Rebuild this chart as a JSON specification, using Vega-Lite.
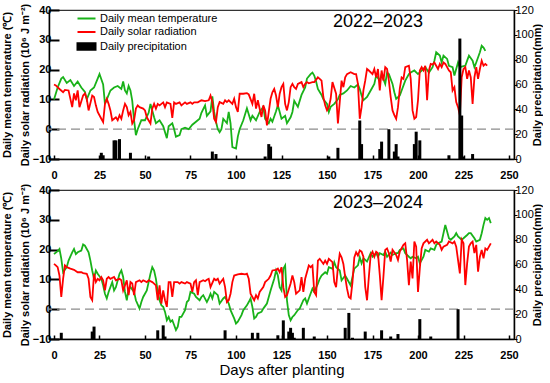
{
  "$schema": "https://vega.github.io/schema/vega-lite/v6.json",
  "padding": {"left": 0, "top": 2, "right": 0, "bottom": 1},
  "config": {
    "font": "Liberation Sans",
    "view": {"stroke": "#333", "strokeWidth": 1.2},
    "axis": {"grid": false, "domainColor": "#000", "tickColor": "#000", "labelColor": "#000", "titleColor": "#000", "labelFont": "Liberation Sans", "titleFont": "Liberation Sans", "labelFlush": false, "labelOverlap": false},
    "concat": {"spacing": 1}
  },
  "datasets": {
    "t1": [{"day":0,"value":10},{"day":2,"value":14},{"day":4,"value":17},{"day":5,"value":17.5},{"day":7,"value":15.5},{"day":9,"value":16.5},{"day":11,"value":14.5},{"day":13,"value":16},{"day":15,"value":14},{"day":17,"value":12.5},{"day":18,"value":10},{"day":20,"value":13},{"day":22,"value":14},{"day":24,"value":17},{"day":25,"value":18.5},{"day":27,"value":15},{"day":28,"value":8.5},{"day":29,"value":10},{"day":31,"value":13},{"day":33,"value":14},{"day":35,"value":14.5},{"day":37,"value":13.5},{"day":38,"value":16},{"day":39,"value":13},{"day":40,"value":12},{"day":41,"value":14.5},{"day":42,"value":13},{"day":43,"value":9.5},{"day":44,"value":3},{"day":45,"value":-2},{"day":46,"value":0},{"day":48,"value":3},{"day":50,"value":3},{"day":52,"value":5.5},{"day":53,"value":8.5},{"day":55,"value":4},{"day":56,"value":2},{"day":58,"value":3},{"day":60,"value":1},{"day":62,"value":-3},{"day":63,"value":1},{"day":65,"value":2},{"day":66,"value":0},{"day":67,"value":-2.5},{"day":69,"value":-2},{"day":70,"value":0},{"day":72,"value":0.5},{"day":74,"value":0},{"day":76,"value":1.5},{"day":78,"value":2.5},{"day":80,"value":3.5},{"day":81,"value":5.5},{"day":83,"value":8},{"day":84,"value":4.5},{"day":86,"value":6},{"day":87,"value":11},{"day":88,"value":5.8},{"day":89,"value":2.5},{"day":90,"value":0},{"day":91,"value":-1},{"day":92,"value":0},{"day":93,"value":3.5},{"day":95,"value":2},{"day":96,"value":5.8},{"day":97,"value":2},{"day":98,"value":-6},{"day":100,"value":-6.5},{"day":101,"value":-2.5},{"day":102,"value":0},{"day":104,"value":3},{"day":105,"value":5},{"day":106,"value":7},{"day":108,"value":3},{"day":109,"value":4.5},{"day":111,"value":3},{"day":113,"value":5.8},{"day":115,"value":7.5},{"day":116,"value":3.5},{"day":118,"value":2},{"day":119,"value":3.5},{"day":120,"value":2.5},{"day":122,"value":6},{"day":123,"value":8},{"day":125,"value":3.5},{"day":127,"value":4.5},{"day":128,"value":2},{"day":130,"value":4},{"day":131,"value":5.8},{"day":132,"value":9.5},{"day":134,"value":7.5},{"day":136,"value":11.5},{"day":138,"value":14},{"day":139,"value":17},{"day":141,"value":18.5},{"day":142,"value":19},{"day":143,"value":18},{"day":144,"value":16},{"day":145,"value":13.5},{"day":147,"value":11.5},{"day":148,"value":10},{"day":150,"value":8.5},{"day":151,"value":5.8},{"day":152,"value":7.5},{"day":154,"value":8.5},{"day":156,"value":10},{"day":157,"value":11.5},{"day":159,"value":12},{"day":161,"value":13},{"day":163,"value":14.5},{"day":165,"value":14},{"day":167,"value":15},{"day":168,"value":13.5},{"day":169,"value":11.3},{"day":170,"value":9.7},{"day":172,"value":10.8},{"day":174,"value":13},{"day":176,"value":15.2},{"day":177,"value":18},{"day":179,"value":16.3},{"day":180,"value":18.5},{"day":182,"value":15.2},{"day":183,"value":19},{"day":184,"value":18.5},{"day":186,"value":15.2},{"day":187,"value":12.4},{"day":188,"value":10.2},{"day":190,"value":11.3},{"day":191,"value":13},{"day":193,"value":16.3},{"day":195,"value":18.5},{"day":196,"value":19},{"day":198,"value":19.7},{"day":200,"value":18.5},{"day":202,"value":19.7},{"day":204,"value":20.8},{"day":206,"value":19},{"day":208,"value":20.8},{"day":209,"value":23},{"day":210,"value":25.8},{"day":212,"value":24.7},{"day":213,"value":22.4},{"day":214,"value":24.7},{"day":216,"value":23.6},{"day":217,"value":21.3},{"day":219,"value":20.8},{"day":220,"value":18},{"day":222,"value":22.4},{"day":223,"value":20.8},{"day":224,"value":21},{"day":226,"value":21.3},{"day":227,"value":23},{"day":228,"value":24.7},{"day":230,"value":23},{"day":231,"value":20.8},{"day":232,"value":22.4},{"day":234,"value":25.8},{"day":235,"value":28},{"day":236,"value":27.4},{"day":237,"value":26.3}],
    "r1": [{"day":0,"value":15},{"day":1,"value":14.7},{"day":3,"value":13.5},{"day":5,"value":12.4},{"day":6,"value":13.2},{"day":8,"value":13},{"day":10,"value":7.4},{"day":11,"value":12},{"day":12,"value":9.7},{"day":13,"value":13},{"day":14,"value":7.4},{"day":16,"value":11.3},{"day":17,"value":12},{"day":18,"value":10.2},{"day":19,"value":6.3},{"day":21,"value":11.3},{"day":22,"value":10.8},{"day":23,"value":8},{"day":24,"value":5.8},{"day":26,"value":3.5},{"day":27,"value":2.4},{"day":28,"value":8.5},{"day":29,"value":10.2},{"day":30,"value":8.5},{"day":31,"value":6.3},{"day":32,"value":3},{"day":34,"value":4},{"day":35,"value":3},{"day":36,"value":4.7},{"day":37,"value":3.5},{"day":38,"value":6.3},{"day":39,"value":8.5},{"day":40,"value":7.4},{"day":41,"value":4.7},{"day":42,"value":5.8},{"day":43,"value":1.9},{"day":44,"value":3},{"day":45,"value":6.9},{"day":46,"value":8},{"day":47,"value":7.4},{"day":49,"value":6.9},{"day":50,"value":6.3},{"day":51,"value":4},{"day":53,"value":1.9},{"day":54,"value":6.9},{"day":55,"value":8.5},{"day":56,"value":6.9},{"day":57,"value":8.5},{"day":58,"value":8},{"day":60,"value":9},{"day":61,"value":7.4},{"day":62,"value":9},{"day":64,"value":8.5},{"day":65,"value":3.8},{"day":66,"value":9},{"day":67,"value":8.5},{"day":69,"value":9},{"day":70,"value":8},{"day":72,"value":9},{"day":73,"value":8.5},{"day":75,"value":9},{"day":76,"value":8.5},{"day":77,"value":9},{"day":79,"value":9},{"day":81,"value":9.7},{"day":83,"value":9.4},{"day":85,"value":9.7},{"day":86,"value":11.3},{"day":87,"value":9.1},{"day":88,"value":3.5},{"day":89,"value":2.4},{"day":90,"value":7.4},{"day":91,"value":9.1},{"day":93,"value":8.5},{"day":94,"value":9.7},{"day":95,"value":9.1},{"day":96,"value":9.7},{"day":98,"value":8.5},{"day":99,"value":10.2},{"day":100,"value":7.4},{"day":101,"value":5.8},{"day":102,"value":11.9},{"day":104,"value":11.9},{"day":106,"value":12.1},{"day":107,"value":11.7},{"day":109,"value":8.5},{"day":110,"value":11.9},{"day":111,"value":6.9},{"day":112,"value":9.7},{"day":114,"value":4.1},{"day":115,"value":8},{"day":116,"value":6.3},{"day":117,"value":1.3},{"day":118,"value":5.8},{"day":119,"value":10.2},{"day":120,"value":12.4},{"day":121,"value":13.5},{"day":122,"value":11.3},{"day":123,"value":7.4},{"day":124,"value":11.9},{"day":125,"value":14.1},{"day":126,"value":15.2},{"day":127,"value":8.5},{"day":128,"value":6.3},{"day":129,"value":9.1},{"day":130,"value":14.1},{"day":131,"value":15.2},{"day":132,"value":14.1},{"day":133,"value":13.5},{"day":134,"value":15.2},{"day":136,"value":15.8},{"day":137,"value":14.1},{"day":138,"value":15.2},{"day":139,"value":15.8},{"day":140,"value":15.4},{"day":142,"value":15.8},{"day":143,"value":15.8},{"day":145,"value":17.4},{"day":146,"value":16.9},{"day":147,"value":16.3},{"day":148,"value":10.8},{"day":149,"value":8},{"day":150,"value":6.3},{"day":151,"value":7.4},{"day":152,"value":10.2},{"day":153,"value":15.8},{"day":155,"value":11.9},{"day":156,"value":1.9},{"day":157,"value":9.1},{"day":158,"value":16.3},{"day":159,"value":14.1},{"day":160,"value":17.4},{"day":161,"value":18.5},{"day":163,"value":19.1},{"day":165,"value":18.5},{"day":166,"value":18.5},{"day":167,"value":15.2},{"day":168,"value":3.5},{"day":169,"value":7.4},{"day":170,"value":13},{"day":171,"value":16.3},{"day":172,"value":20.2},{"day":173,"value":19.7},{"day":175,"value":18.5},{"day":176,"value":20.2},{"day":177,"value":17.4},{"day":178,"value":20.2},{"day":179,"value":13},{"day":180,"value":19.7},{"day":181,"value":16.3},{"day":182,"value":20.8},{"day":183,"value":20.2},{"day":184,"value":16.3},{"day":185,"value":10.8},{"day":186,"value":6.3},{"day":187,"value":4.7},{"day":188,"value":3.5},{"day":189,"value":7.4},{"day":190,"value":13.6},{"day":191,"value":17.4},{"day":192,"value":16.9},{"day":193,"value":20.8},{"day":195,"value":21.3},{"day":196,"value":16.9},{"day":197,"value":6.3},{"day":198,"value":3.5},{"day":199,"value":4.1},{"day":200,"value":9.7},{"day":201,"value":19.7},{"day":202,"value":20.8},{"day":203,"value":19.7},{"day":204,"value":21.3},{"day":205,"value":9.7},{"day":206,"value":19.7},{"day":207,"value":21.9},{"day":208,"value":21.7},{"day":209,"value":22.4},{"day":210,"value":21.3},{"day":211,"value":20.2},{"day":212,"value":21.9},{"day":213,"value":20.8},{"day":214,"value":22.4},{"day":215,"value":21.9},{"day":217,"value":19.7},{"day":218,"value":19.1},{"day":219,"value":13},{"day":220,"value":14.1},{"day":221,"value":9.1},{"day":222,"value":7.4},{"day":223,"value":4.7},{"day":224,"value":17.4},{"day":225,"value":20.2},{"day":226,"value":20.8},{"day":227,"value":16.9},{"day":228,"value":19.7},{"day":229,"value":17.4},{"day":230,"value":8.5},{"day":231,"value":17.4},{"day":232,"value":20.8},{"day":233,"value":16.9},{"day":234,"value":20.2},{"day":235,"value":23},{"day":236,"value":21.3},{"day":237,"value":21.9},{"day":238,"value":21.3}],
    "p1": [{"day":26,"value":5},{"day":27,"value":3},{"day":33,"value":15},{"day":34,"value":15},{"day":36,"value":16},{"day":42,"value":5},{"day":52,"value":2},{"day":87,"value":6},{"day":89,"value":4},{"day":116,"value":2},{"day":118,"value":12},{"day":119,"value":10},{"day":151,"value":2},{"day":156,"value":9},{"day":168,"value":31},{"day":169,"value":12},{"day":179,"value":8},{"day":180,"value":14},{"day":184,"value":24},{"day":187,"value":6},{"day":188,"value":12},{"day":189,"value":2},{"day":198,"value":12},{"day":199,"value":22},{"day":201,"value":15},{"day":217,"value":3},{"day":223,"value":97},{"day":224,"value":35},{"day":225,"value":2},{"day":230,"value":4}],
    "t2": [{"day":0,"value":18.5},{"day":1,"value":19},{"day":2,"value":19.5},{"day":3,"value":20.2},{"day":4,"value":17},{"day":5,"value":12.4},{"day":7,"value":14.1},{"day":8,"value":16.3},{"day":10,"value":19.1},{"day":11,"value":20.2},{"day":12,"value":18.5},{"day":13,"value":19.1},{"day":15,"value":19.7},{"day":16,"value":21.7},{"day":17,"value":21.3},{"day":19,"value":19.1},{"day":20,"value":16.3},{"day":21,"value":13},{"day":22,"value":10.2},{"day":23,"value":13},{"day":24,"value":11.9},{"day":26,"value":10.2},{"day":27,"value":8},{"day":28,"value":5.2},{"day":29,"value":3.6},{"day":30,"value":5.8},{"day":32,"value":9.1},{"day":33,"value":6.3},{"day":34,"value":7.4},{"day":36,"value":11.9},{"day":37,"value":13},{"day":38,"value":10.8},{"day":39,"value":5.8},{"day":40,"value":3},{"day":41,"value":6.9},{"day":42,"value":7.4},{"day":44,"value":5.8},{"day":45,"value":3},{"day":47,"value":0.2},{"day":48,"value":2.4},{"day":49,"value":4.1},{"day":51,"value":6.3},{"day":52,"value":9.1},{"day":53,"value":11.9},{"day":54,"value":14.1},{"day":55,"value":13},{"day":56,"value":10.2},{"day":57,"value":5.8},{"day":58,"value":3},{"day":59,"value":1.3},{"day":60,"value":0.8},{"day":61,"value":-0.9},{"day":62,"value":-3.7},{"day":63,"value":-2.6},{"day":64,"value":-4.2},{"day":65,"value":-3.7},{"day":66,"value":-5.3},{"day":67,"value":-7},{"day":68,"value":-5.9},{"day":69,"value":-2.6},{"day":70,"value":-2.6},{"day":72,"value":-0.3},{"day":73,"value":2.4},{"day":74,"value":3},{"day":75,"value":5.8},{"day":77,"value":5.2},{"day":78,"value":4.1},{"day":80,"value":3},{"day":81,"value":4.1},{"day":82,"value":4.7},{"day":84,"value":2.4},{"day":85,"value":3.6},{"day":86,"value":5.2},{"day":87,"value":3.6},{"day":88,"value":5.8},{"day":90,"value":4.7},{"day":91,"value":1.9},{"day":93,"value":3.6},{"day":94,"value":4.1},{"day":95,"value":3},{"day":96,"value":1.9},{"day":97,"value":-0.3},{"day":99,"value":-3.1},{"day":100,"value":-4.8},{"day":101,"value":-4.2},{"day":103,"value":-2},{"day":104,"value":-0.3},{"day":106,"value":1.3},{"day":107,"value":2.4},{"day":108,"value":3.6},{"day":109,"value":0.8},{"day":110,"value":-3.1},{"day":111,"value":-2.6},{"day":112,"value":-1.4},{"day":114,"value":-0.9},{"day":115,"value":0.2},{"day":117,"value":1.9},{"day":118,"value":4.1},{"day":119,"value":6.3},{"day":121,"value":10.2},{"day":122,"value":13},{"day":123,"value":11.3},{"day":124,"value":7.4},{"day":125,"value":6.3},{"day":126,"value":13.6},{"day":127,"value":14.7},{"day":128,"value":3},{"day":129,"value":-2},{"day":130,"value":-3.7},{"day":131,"value":-2.6},{"day":132,"value":-2},{"day":134,"value":-0.3},{"day":135,"value":0.2},{"day":137,"value":3},{"day":138,"value":3.6},{"day":139,"value":1.9},{"day":140,"value":3.6},{"day":142,"value":6.9},{"day":143,"value":5.8},{"day":145,"value":8.6},{"day":146,"value":10.2},{"day":147,"value":11.3},{"day":149,"value":12.4},{"day":150,"value":11.9},{"day":151,"value":14.1},{"day":153,"value":13.6},{"day":154,"value":15.8},{"day":155,"value":14.1},{"day":157,"value":13},{"day":158,"value":9.7},{"day":160,"value":11.3},{"day":161,"value":10.2},{"day":163,"value":8},{"day":164,"value":10.8},{"day":165,"value":13.6},{"day":167,"value":14.7},{"day":168,"value":17.4},{"day":169,"value":15.4},{"day":170,"value":17.1},{"day":172,"value":16},{"day":174,"value":18.8},{"day":175,"value":17.6},{"day":177,"value":18.8},{"day":178,"value":17.6},{"day":179,"value":18.8},{"day":181,"value":18.2},{"day":182,"value":19.3},{"day":183,"value":17.6},{"day":185,"value":19},{"day":186,"value":18.2},{"day":188,"value":18.8},{"day":189,"value":18.8},{"day":190,"value":19.9},{"day":192,"value":20.4},{"day":193,"value":18.8},{"day":195,"value":17.6},{"day":196,"value":17.1},{"day":197,"value":17.6},{"day":199,"value":17.1},{"day":200,"value":17.6},{"day":201,"value":15.4},{"day":203,"value":17.6},{"day":204,"value":19.9},{"day":206,"value":19.3},{"day":207,"value":20.4},{"day":209,"value":19.9},{"day":210,"value":21.6},{"day":211,"value":22.1},{"day":213,"value":22.7},{"day":214,"value":25.5},{"day":215,"value":28.3},{"day":216,"value":26.1},{"day":217,"value":23.8},{"day":218,"value":23.3},{"day":220,"value":24.4},{"day":221,"value":25.5},{"day":222,"value":24.4},{"day":224,"value":23.3},{"day":225,"value":23.8},{"day":227,"value":24.9},{"day":228,"value":25.5},{"day":229,"value":25.5},{"day":231,"value":23.8},{"day":232,"value":22.7},{"day":234,"value":23.3},{"day":235,"value":25.5},{"day":236,"value":28.3},{"day":237,"value":30.6},{"day":238,"value":30},{"day":239,"value":30.6},{"day":240,"value":28.9}],
    "r2": [{"day":0,"value":15.2},{"day":1,"value":14.7},{"day":2,"value":14.1},{"day":3,"value":11.3},{"day":4,"value":4.1},{"day":5,"value":10.2},{"day":6,"value":14.7},{"day":7,"value":14.1},{"day":9,"value":13.6},{"day":11,"value":13.2},{"day":13,"value":12.4},{"day":15,"value":12.4},{"day":16,"value":12.1},{"day":18,"value":11.9},{"day":19,"value":10.2},{"day":20,"value":4.1},{"day":21,"value":3},{"day":22,"value":11.9},{"day":23,"value":9.1},{"day":24,"value":10.2},{"day":25,"value":9.7},{"day":26,"value":10.8},{"day":27,"value":9.7},{"day":28,"value":6.3},{"day":29,"value":10.2},{"day":30,"value":10.8},{"day":31,"value":10.2},{"day":33,"value":10.8},{"day":34,"value":9.7},{"day":36,"value":10.2},{"day":37,"value":9.7},{"day":38,"value":6.3},{"day":40,"value":9.7},{"day":41,"value":4.7},{"day":42,"value":9.1},{"day":43,"value":8.6},{"day":44,"value":4.7},{"day":45,"value":9.1},{"day":47,"value":9.7},{"day":48,"value":9.1},{"day":49,"value":9.7},{"day":51,"value":9.1},{"day":52,"value":9.7},{"day":54,"value":9.1},{"day":55,"value":8.6},{"day":56,"value":8},{"day":57,"value":3},{"day":58,"value":8},{"day":59,"value":1.9},{"day":60,"value":6.3},{"day":61,"value":3},{"day":62,"value":0.8},{"day":63,"value":9.1},{"day":64,"value":9.1},{"day":65,"value":4.1},{"day":66,"value":9.1},{"day":68,"value":9.1},{"day":69,"value":8.6},{"day":70,"value":9.1},{"day":72,"value":8.6},{"day":73,"value":9.1},{"day":75,"value":8.6},{"day":76,"value":5.8},{"day":77,"value":9.1},{"day":78,"value":9.7},{"day":79,"value":4.7},{"day":80,"value":9.1},{"day":82,"value":9.7},{"day":83,"value":9.4},{"day":84,"value":9.9},{"day":85,"value":10.2},{"day":86,"value":7.4},{"day":88,"value":10.2},{"day":89,"value":9.7},{"day":90,"value":10.2},{"day":91,"value":8.6},{"day":93,"value":10.2},{"day":94,"value":7.4},{"day":95,"value":2.4},{"day":96,"value":3},{"day":97,"value":5.2},{"day":98,"value":9.1},{"day":99,"value":11.3},{"day":101,"value":11.7},{"day":103,"value":11.9},{"day":105,"value":11.7},{"day":106,"value":11.9},{"day":107,"value":10.2},{"day":108,"value":5.2},{"day":109,"value":4.1},{"day":110,"value":3},{"day":111,"value":4.7},{"day":112,"value":3.6},{"day":113,"value":5.8},{"day":115,"value":7.4},{"day":116,"value":9.1},{"day":118,"value":10.2},{"day":119,"value":11.3},{"day":120,"value":13},{"day":122,"value":13.2},{"day":123,"value":13.6},{"day":124,"value":12.4},{"day":125,"value":14.1},{"day":126,"value":7.4},{"day":127,"value":4.1},{"day":128,"value":4.7},{"day":130,"value":8.6},{"day":131,"value":11.3},{"day":132,"value":9.1},{"day":133,"value":5.2},{"day":135,"value":6.3},{"day":136,"value":10.8},{"day":137,"value":5.8},{"day":138,"value":10.2},{"day":140,"value":14.7},{"day":141,"value":14.1},{"day":142,"value":14.7},{"day":143,"value":5.8},{"day":144,"value":4.7},{"day":145,"value":16.3},{"day":146,"value":16.9},{"day":148,"value":15.2},{"day":149,"value":16.3},{"day":150,"value":15.2},{"day":151,"value":16.9},{"day":153,"value":15.8},{"day":154,"value":9.1},{"day":155,"value":7.4},{"day":156,"value":14.1},{"day":157,"value":18.6},{"day":158,"value":17.4},{"day":159,"value":15.2},{"day":160,"value":10.8},{"day":161,"value":6.9},{"day":162,"value":4.1},{"day":163,"value":3.6},{"day":164,"value":9.1},{"day":165,"value":17.4},{"day":166,"value":19.1},{"day":167,"value":18},{"day":168,"value":19.7},{"day":169,"value":19.3},{"day":170,"value":17.6},{"day":171,"value":7.5},{"day":172,"value":3},{"day":173,"value":10.9},{"day":174,"value":18.2},{"day":175,"value":19.3},{"day":176,"value":17.6},{"day":177,"value":19.3},{"day":178,"value":18.8},{"day":179,"value":11.5},{"day":180,"value":3},{"day":181,"value":10.9},{"day":182,"value":19.9},{"day":183,"value":20.4},{"day":184,"value":18.8},{"day":185,"value":16},{"day":186,"value":19.9},{"day":188,"value":18.2},{"day":189,"value":16.5},{"day":190,"value":19.3},{"day":192,"value":21.6},{"day":193,"value":22.1},{"day":194,"value":16.5},{"day":195,"value":8.1},{"day":196,"value":16},{"day":197,"value":10.3},{"day":198,"value":22.7},{"day":199,"value":21},{"day":200,"value":5.8},{"day":201,"value":13.7},{"day":202,"value":20.4},{"day":203,"value":22.1},{"day":205,"value":23.3},{"day":206,"value":22.1},{"day":208,"value":23.3},{"day":209,"value":22.1},{"day":210,"value":22.7},{"day":212,"value":21.6},{"day":213,"value":19.9},{"day":214,"value":21},{"day":216,"value":21.6},{"day":217,"value":22.7},{"day":219,"value":22.1},{"day":220,"value":22.7},{"day":221,"value":21},{"day":222,"value":16.5},{"day":223,"value":12},{"day":224,"value":23.3},{"day":225,"value":22.1},{"day":226,"value":8.1},{"day":227,"value":15.4},{"day":228,"value":21},{"day":229,"value":22.1},{"day":230,"value":22.7},{"day":231,"value":18.8},{"day":232,"value":21.6},{"day":233,"value":12.6},{"day":234,"value":17.6},{"day":235,"value":19.9},{"day":236,"value":17.1},{"day":237,"value":20.4},{"day":238,"value":19.9},{"day":239,"value":21},{"day":240,"value":22.1}],
    "p2": [{"day":4,"value":5},{"day":21,"value":6},{"day":22,"value":10},{"day":57,"value":7},{"day":60,"value":11},{"day":61,"value":2},{"day":94,"value":7},{"day":109,"value":5},{"day":112,"value":5},{"day":123,"value":3},{"day":126,"value":15},{"day":129,"value":6},{"day":130,"value":9},{"day":131,"value":5},{"day":132,"value":1},{"day":137,"value":9},{"day":143,"value":2},{"day":160,"value":9},{"day":162,"value":21},{"day":164,"value":1},{"day":171,"value":6},{"day":180,"value":7},{"day":185,"value":2},{"day":189,"value":4},{"day":201,"value":16},{"day":207,"value":2},{"day":222,"value":24}]
  },
  "vconcat": [
    {
      "width": 465,
      "height": 149,
      "resolve": {"scale": {"y": "independent"}},
      "layer": [
        {
          "layer": [
            {
              "data": {"values": [{}]},
              "mark": {"type": "rule", "strokeDash": [9, 5], "color": "#8c8c8c", "strokeWidth": 1.3},
              "encoding": {"y": {"datum": 0, "type": "quantitative"}}
            },
            {
              "data": {"name": "t1"},
              "mark": {"type": "line", "strokeWidth": 1.8},
              "encoding": {
                "x": {"field": "day", "type": "quantitative", "scale": {"domain": [0, 250], "nice": false},
                  "axis": {"values": [0,25,50,75,100,125,150,175,200,225,250], "tickCount": 20, "title": null, "labelFontWeight": "bold", "labelFontSize": 11, "tickSize": -4, "tickWidth": 1.5, "labelPadding": 14, "labelOverlap": false, "domainWidth": 1.5}},
                "y": {"field": "value", "type": "quantitative", "scale": {"domain": [-10, 40], "nice": false},
                  "axis": {"values": [-10,0,10,20,30,40], "tickCount": 12, "title": ["Daily mean temperature (℃)", "Daily solar radiation (10⁶ J m⁻²)"], "labelFontWeight": "bold", "labelFontSize": 11, "labelOverlap": false, "tickSize": -10, "tickWidth": 2, "labelPadding": 8, "titleFontSize": 11, "titleFontWeight": "bold", "titleLineHeight": 18, "titlePadding": 2, "domainWidth": 1.5}},
                "color": {"datum": "Daily mean temperature",
                  "scale": {"domain": ["Daily mean temperature", "Daily solar radiation", "Daily precipitation"], "range": ["#19b219", "#ff0000", "#000000"]},
                  "legend": {"title": null, "orient": "none", "legendX": 32, "legendY": 3, "labelFontSize": 11, "labelFont": "Liberation Sans", "labelColor": "#000", "symbolSize": 81, "rowPadding": 1.5, "labelOffset": 8, "labelLimit": 300,
                    "encode": {"symbols": {"update": {
                      "shape": {"signal": "datum.value === 'Daily precipitation' ? 'M-2,-0.7H2V0.7H-2Z' : 'M-2,0H2'"},
                      "fill": {"signal": "datum.value === 'Daily precipitation' ? '#000000' : 'transparent'"},
                      "stroke": {"signal": "datum.value === 'Daily mean temperature' ? '#19b219' : (datum.value === 'Daily solar radiation' ? '#ff0000' : 'transparent')"},
                      "strokeWidth": {"value": 2},
                      "opacity": {"value": 1}
                    }}}}}
              }
            },
            {
              "data": {"name": "r1"},
              "mark": {"type": "line", "strokeWidth": 1.8},
              "encoding": {
                "x": {"field": "day", "type": "quantitative"},
                "y": {"field": "value", "type": "quantitative"},
                "color": {"datum": "Daily solar radiation"}
              }
            },
            {
              "data": {"values": [{"label": "2022–2023"}]},
              "mark": {"type": "text", "fontSize": 18, "font": "Liberation Sans", "color": "#000"},
              "encoding": {"x": {"datum": 178, "type": "quantitative"}, "y": {"datum": 36, "type": "quantitative"}, "text": {"field": "label"}}
            }
          ]
        },
        {
          "data": {"name": "p1"},
          "mark": {"type": "bar", "size": 3},
          "encoding": {
            "x": {"field": "day", "type": "quantitative"},
            "y": {"field": "value", "type": "quantitative", "scale": {"domain": [0, 120], "nice": false},
              "axis": {"orient": "right", "values": [0,20,40,60,80,100,120], "tickCount": 14, "title": "Daily precipitation(mm)", "labelFontSize": 11, "labelOverlap": false, "tickSize": 3, "labelPadding": -2, "titleFontSize": 11, "titleFontWeight": "bold", "titlePadding": 9, "titleAngle": 270, "domainWidth": 1.5}},
            "color": {"datum": "Daily precipitation"}
          }
        }
      ]
    },
    {
      "width": 465,
      "height": 149,
      "resolve": {"scale": {"y": "independent"}},
      "layer": [
        {
          "layer": [
            {
              "data": {"values": [{}]},
              "mark": {"type": "rule", "strokeDash": [9, 5], "color": "#8c8c8c", "strokeWidth": 1.3},
              "encoding": {"y": {"datum": 0, "type": "quantitative"}}
            },
            {
              "data": {"name": "t2"},
              "mark": {"type": "line", "strokeWidth": 1.8, "color": "#19b219"},
              "encoding": {
                "x": {"field": "day", "type": "quantitative", "scale": {"domain": [0, 250], "nice": false},
                  "axis": {"values": [0,25,50,75,100,125,150,175,200,225,250], "tickCount": 20, "title": "Days after planting", "titleFontSize": 15, "titleFontWeight": "normal", "titlePadding": 2, "labelFontWeight": "bold", "labelFontSize": 11, "labelOverlap": false, "tickSize": -4, "tickWidth": 1.5, "labelPadding": 14, "domainWidth": 1.5}},
                "y": {"field": "value", "type": "quantitative", "scale": {"domain": [-10, 40], "nice": false},
                  "axis": {"values": [-10,0,10,20,30,40], "tickCount": 12, "title": ["Daily mean temperature (℃)", "Daily solar radiation (10⁶ J m⁻²)"], "labelFontWeight": "bold", "labelFontSize": 11, "labelOverlap": false, "tickSize": -10, "tickWidth": 2, "labelPadding": 8, "titleFontSize": 11, "titleFontWeight": "bold", "titleLineHeight": 18, "titlePadding": 2, "domainWidth": 1.5}}
              }
            },
            {
              "data": {"name": "r2"},
              "mark": {"type": "line", "strokeWidth": 1.8, "color": "#ff0000"},
              "encoding": {
                "x": {"field": "day", "type": "quantitative"},
                "y": {"field": "value", "type": "quantitative"}
              }
            },
            {
              "data": {"values": [{"label": "2023–2024"}]},
              "mark": {"type": "text", "fontSize": 18, "font": "Liberation Sans", "color": "#000"},
              "encoding": {"x": {"datum": 178, "type": "quantitative"}, "y": {"datum": 35.5, "type": "quantitative"}, "text": {"field": "label"}}
            }
          ]
        },
        {
          "data": {"name": "p2"},
          "mark": {"type": "bar", "size": 3, "color": "#000"},
          "encoding": {
            "x": {"field": "day", "type": "quantitative"},
            "y": {"field": "value", "type": "quantitative", "scale": {"domain": [0, 120], "nice": false},
              "axis": {"orient": "right", "values": [0,20,40,60,80,100,120], "tickCount": 14, "title": "Daily precipitation(mm)", "labelFontSize": 11, "labelOverlap": false, "tickSize": 3, "labelPadding": -2, "titleFontSize": 11, "titleFontWeight": "bold", "titlePadding": 9, "titleAngle": 270, "domainWidth": 1.5}}
          }
        }
      ]
    }
  ],
  "resolve": {"scale": {"color": "independent"}, "legend": {"color": "independent"}}
}
